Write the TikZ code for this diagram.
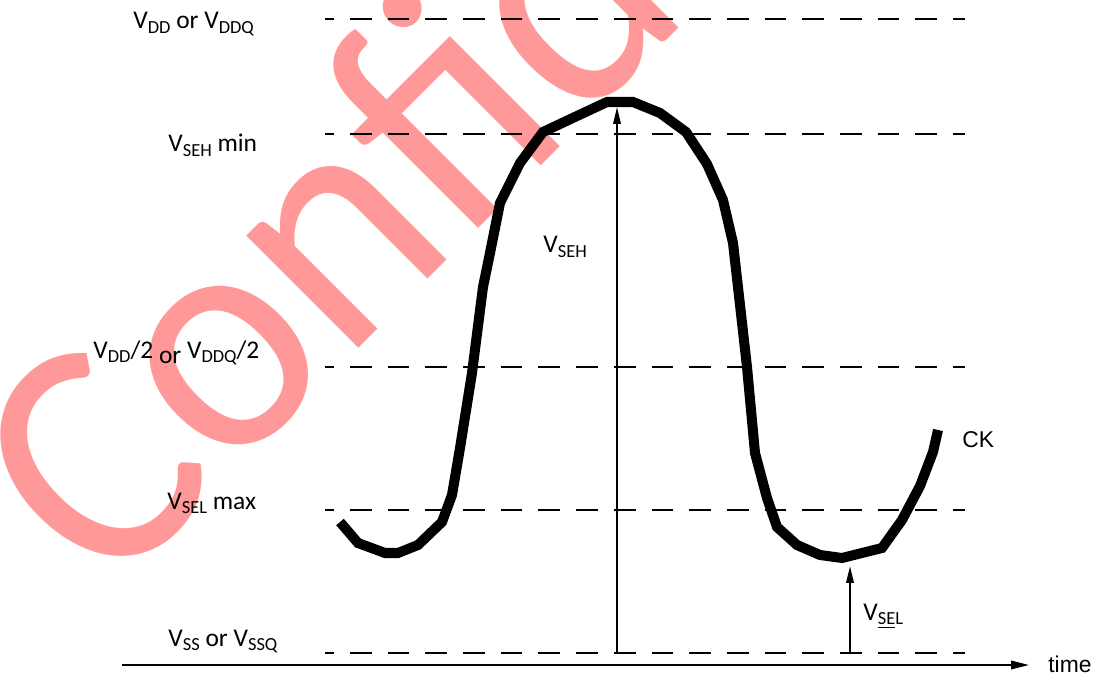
\documentclass[tikz,border=0pt]{standalone}
\usepackage{fontspec}
\setmainfont{Carlito}
\newfontfamily\arialfont{Liberation Sans}
\usepackage{tikz}
\usetikzlibrary{arrows.meta,positioning}

% lowered subscript as the labels print it
\newcommand{\lo}[1]{\raisebox{-2.6pt}{\fontsize{10.5}{10.5}\selectfont #1}}

\begin{document}
\begin{tikzpicture}[
  x=0.02cm, y=-0.02cm,
  lbl/.style   ={inner sep=0pt, anchor=base west, font=\fontsize{14.5}{14.5}\selectfont},
  tag/.style   ={inner sep=0pt, anchor=base west, font=\arialfont\fontsize{13}{13}\selectfont},
  level/.style ={line width=1.1pt, dash pattern=on 0.434cm off 0.32cm, dash phase=0.254cm},
  wave/.style  ={line width=5.7pt, line join=miter},
  arr/.style   ={-{Triangle[length=0.34cm,width=0.15cm]}, line width=1.1pt},
  axis/.style  ={-{Triangle[length=0.36cm,width=0.17cm]}, line width=1.1pt},
  wmark/.style ={text=red!40, inner sep=0pt, anchor=base west, rotate=45,
                 font=\fontsize{189}{189}\selectfont},
]

\useasboundingbox (0,0) rectangle (1095,675);

\def\xL{325}
\def\xR{965}
\def\yVdd{19}
\def\ySeh{134}
\def\yMid{367}
\def\ySel{510}
\def\yVss{653}

% ---------- WATERMARK ----------
\begin{scope}
  \clip (0,0) rectangle (1095,675);
  \node[wmark] (wmark) at (107,600) {\scalebox{0.95}[1]{Confidential}};
\end{scope}

% ---------- LEVELS ----------
\coordinate (vddL) at (\xL,\yVdd);  \coordinate (vddR) at (\xR,\yVdd);
\coordinate (sehL) at (\xL,\ySeh);  \coordinate (sehR) at (\xR,\ySeh);
\coordinate (midL) at (\xL,\yMid);  \coordinate (midR) at (\xR,\yMid);
\coordinate (selL) at (\xL,\ySel);  \coordinate (selR) at (\xR,\ySel);
\coordinate (vssL) at (\xL,\yVss);  \coordinate (vssR) at (\xR,\yVss);

\draw[level] (vddL) -- (vddR);
\draw[level] (sehL) -- (sehR);
\draw[level] (midL) -- (midR);
\draw[level] (selL) -- (selR);
\draw[level] (vssL) -- (vssR);

% ---------- CK WAVEFORM ----------
\draw[wave] (340,522) -- (358,543) -- (385,553) -- (398,553) -- (418,545)
  -- (442,522) -- (452,495) -- (460,448) -- (472,373) -- (483,287)
  -- (490,253) -- (500,203) -- (520,163) -- (543,132) -- (577,116)
  -- (607,102) -- (633,102) -- (660,113) -- (686,132) -- (707,164)
  -- (723,200) -- (733,243) -- (747,367) -- (755,453) -- (767,498)
  -- (777,527) -- (797,545) -- (820,555) -- (842,558) -- (882,548)
  -- (902,520) -- (920,486) -- (933,452) -- (938,430);

% ---------- ARROWS ----------
\coordinate (sehbot) at (617,\yVss);
\coordinate (sehtop) at (617,107);
\coordinate (selbot) at (850,\yVss);
\coordinate (seltop) at (850,566);
\coordinate (tstart) at (122,665);
\coordinate (tend)   at (1029,665);

\draw[arr]  (sehbot) -- (sehtop);
\draw[arr]  (selbot) -- (seltop);
\draw[axis] (tstart) -- (tend);

% ---------- LABELS ----------
\node[lbl] (vdd)    at (133,29)  {V\lo{DD} or V\lo{DDQ}};
\node[lbl] (sehmin) at (168,152) {V\lo{SEH} min};
\node[lbl] (half)   at (93,358)  {V\lo{DD}/2 \raisebox{-3pt}{or} V\lo{DDQ}/2};
\node[lbl] (selmax) at (167,509) {V\lo{SEL} max};
\node[lbl] (vss)    at (168,646) {V\lo{SS} or V\lo{SSQ}};
\node[lbl] (seh)    at (543,253) {V\lo{SEH}};
\node[lbl] (sel)    at (863,620) {V\lo{\underline{SE}L}};
\node[tag] (ck)     at (962,447) {CK};
\node[tag] (time)   at (1048,672) {time};

\end{tikzpicture}
\end{document}
